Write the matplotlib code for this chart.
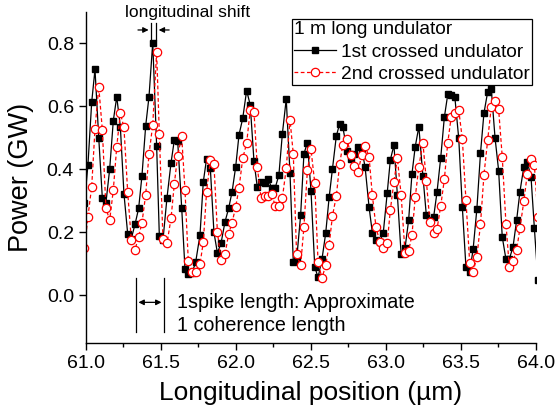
import matplotlib
matplotlib.use("Agg")
import matplotlib.pyplot as plt

plt.rcParams['font.family'] = ['Liberation Sans', 'DejaVu Sans']

# longitudinal position (um), shared by both curves
x_um = [60.992, 61.015, 61.040, 61.062, 61.087, 61.111, 61.135, 61.160, 61.184, 61.207,
        61.231, 61.255, 61.280, 61.304, 61.329, 61.353, 61.375, 61.400, 61.422, 61.447,
        61.473, 61.491, 61.515, 61.542, 61.569, 61.591, 61.613, 61.640, 61.662, 61.684,
        61.709, 61.733, 61.762, 61.784, 61.806, 61.831, 61.855, 61.878, 61.902, 61.929,
        61.953, 61.976, 62.000, 62.022, 62.047, 62.073, 62.097, 62.122, 62.144, 62.169,
        62.193, 62.215, 62.240, 62.264, 62.288, 62.311, 62.337, 62.362, 62.384, 62.406,
        62.433, 62.455, 62.478, 62.502, 62.527, 62.549, 62.575, 62.600, 62.623, 62.645,
        62.671, 62.693, 62.714, 62.742, 62.767, 62.791, 62.816, 62.840, 62.863, 62.889,
        62.911, 62.935, 62.960, 62.984, 63.010, 63.031, 63.055, 63.078, 63.103, 63.129,
        63.153, 63.175, 63.197, 63.221, 63.248, 63.271, 63.295, 63.320, 63.342, 63.367,
        63.391, 63.414, 63.437, 63.461, 63.487, 63.511, 63.535, 63.560, 63.583, 63.608,
        63.632, 63.655, 63.680, 63.704, 63.729, 63.753, 63.777, 63.802, 63.824, 63.849,
        63.873, 63.895, 63.921, 63.944, 63.969, 63.991, 64.015]

# power (GW), 1st crossed undulator
p_first = [0.294, 0.414, 0.613, 0.717, 0.50, 0.308, 0.294, 0.401, 0.554, 0.630,
           0.535, 0.323, 0.195, 0.18, 0.226, 0.276, 0.379, 0.538, 0.630, 0.802,
           0.474, 0.188, 0.175, 0.310, 0.421, 0.493, 0.491, 0.278, 0.083, 0.067,
           0.072, 0.105, 0.192, 0.360, 0.434, 0.403, 0.200, 0.135, 0.165, 0.234,
           0.276, 0.329, 0.408, 0.509, 0.562, 0.650, 0.604, 0.425, 0.343, 0.359,
           0.356, 0.370, 0.342, 0.342, 0.382, 0.512, 0.623, 0.389, 0.106, 0.112,
           0.255, 0.449, 0.485, 0.332, 0.091, 0.057, 0.114, 0.197, 0.311, 0.401,
           0.506, 0.544, 0.535, 0.459, 0.433, 0.45, 0.472, 0.466, 0.406, 0.281,
           0.199, 0.176, 0.170, 0.199, 0.324, 0.430, 0.477, 0.318, 0.130, 0.150,
           0.239, 0.385, 0.472, 0.535, 0.380, 0.254, 0.24, 0.250, 0.327, 0.437,
           0.565, 0.638, 0.636, 0.629, 0.498, 0.280, 0.090, 0.074, 0.147, 0.275,
           0.451, 0.578, 0.646, 0.654, 0.50, 0.396, 0.186, 0.114, 0.115, 0.154,
           0.239, 0.329, 0.408, 0.424, 0.375, 0.215, 0.05]

# power (GW), 2nd crossed undulator
p_second = [0.150, 0.250, 0.345, 0.528, 0.662, 0.525, 0.276, 0.239, 0.334, 0.472,
            0.578, 0.533, 0.328, 0.176, 0.145, 0.186, 0.230, 0.320, 0.448, 0.541,
            0.773, 0.512, 0.180, 0.165, 0.245, 0.354, 0.443, 0.505, 0.334, 0.11,
            0.074, 0.074, 0.099, 0.169, 0.329, 0.430, 0.417, 0.202, 0.112, 0.131,
            0.195, 0.231, 0.281, 0.340, 0.435, 0.483, 0.588, 0.583, 0.408, 0.308,
            0.315, 0.315, 0.322, 0.283, 0.283, 0.308, 0.403, 0.557, 0.449, 0.130,
            0.095, 0.218, 0.397, 0.463, 0.357, 0.107, 0.054, 0.096, 0.160, 0.252,
            0.315, 0.417, 0.477, 0.497, 0.445, 0.410, 0.392, 0.445, 0.474, 0.440,
            0.318, 0.218, 0.170, 0.149, 0.165, 0.271, 0.361, 0.435, 0.318, 0.135,
            0.142, 0.191, 0.311, 0.408, 0.485, 0.364, 0.232, 0.199, 0.210, 0.284,
            0.368, 0.485, 0.567, 0.578, 0.588, 0.496, 0.303, 0.104, 0.075, 0.123,
            0.226, 0.382, 0.493, 0.599, 0.618, 0.590, 0.440, 0.226, 0.091, 0.109,
            0.144, 0.213, 0.299, 0.385, 0.432, 0.414, 0.25]

fig = plt.figure(figsize=(5.55, 4.16), dpi=100)
ax = fig.add_axes([0.1544, 0.1762, 0.8108, 0.7957])

ax.plot(x_um, p_first, '-', color='black', lw=0.9, marker='s', ms=5,
        mfc='black', mec='black', label='1st crossed undulator')
ax.plot(x_um, p_second, '--', color='red', lw=0.9, dashes=(3, 2), marker='o', ms=6,
        mfc='white', mec='red', mew=0.9, label='2nd crossed undulator')

ax.set_xlim(61.0, 64.0)
ax.set_ylim(-0.15, 0.9)
ax.set_xticks([61.0, 61.5, 62.0, 62.5, 63.0, 63.5, 64.0])
ax.set_xticks([61.25, 61.75, 62.25, 62.75, 63.25, 63.75], minor=True)
ax.set_yticks([0.0, 0.2, 0.4, 0.6, 0.8])
ax.xaxis.set_major_formatter(matplotlib.ticker.FormatStrFormatter('%.1f'))
ax.yaxis.set_major_formatter(matplotlib.ticker.FormatStrFormatter('%.1f'))
ax.tick_params(labelsize=14, direction='out', length=5, width=1)
ax.tick_params(which='minor', direction='out', length=3, width=1)
for s in ['top', 'right']:
    ax.spines[s].set_visible(False)
for s in ['left', 'bottom']:
    ax.spines[s].set_linewidth(1)

ax.set_xlabel('Longitudinal position (µm)', fontsize=19, labelpad=7)
ax.set_ylabel('Power (GW)', fontsize=19.5, labelpad=9)

# longitudinal shift marker
ax.plot([61.438, 61.438], [0.81, 0.865], color='black', lw=0.9)
ax.plot([61.468, 61.468], [0.81, 0.865], color='black', lw=0.9)
ax.annotate('', xy=(61.438, 0.842), xytext=(61.33, 0.842),
            arrowprops=dict(arrowstyle='-|>', color='black', lw=0.9, mutation_scale=8))
ax.annotate('', xy=(61.468, 0.842), xytext=(61.575, 0.842),
            arrowprops=dict(arrowstyle='-|>', color='black', lw=0.9, mutation_scale=8))
ax.text(61.68, 0.897, 'longitudinal shift', fontsize=12.5, ha='center', va='center')

# spike length marker
ax.plot([61.333, 61.333], [-0.116, 0.055], color='black', lw=0.9)
ax.plot([61.524, 61.524], [-0.116, 0.055], color='black', lw=0.9)
ax.annotate('', xy=(61.333, -0.022), xytext=(61.524, -0.022),
            arrowprops=dict(arrowstyle='<|-|>', color='black', lw=0.9, mutation_scale=8))
ax.text(61.608, -0.022, '1spike length: Approximate', fontsize=14.2, va='center')
ax.text(61.608, -0.096, '1 coherence length', fontsize=14.2, va='center')

leg = ax.legend(title='1 m long undulator', alignment='left', fontsize=13.8,
                title_fontsize=13.8, loc='upper left',
                bbox_to_anchor=(292 / 555, 1 - 19 / 416), bbox_transform=fig.transFigure,
                fancybox=False, framealpha=1, edgecolor='black', borderaxespad=0,
                handlelength=2.2, handletextpad=0.25, borderpad=0.12, labelspacing=0.26)
leg.get_frame().set_linewidth(0.9)

fig.savefig('out.png', dpi=100)
